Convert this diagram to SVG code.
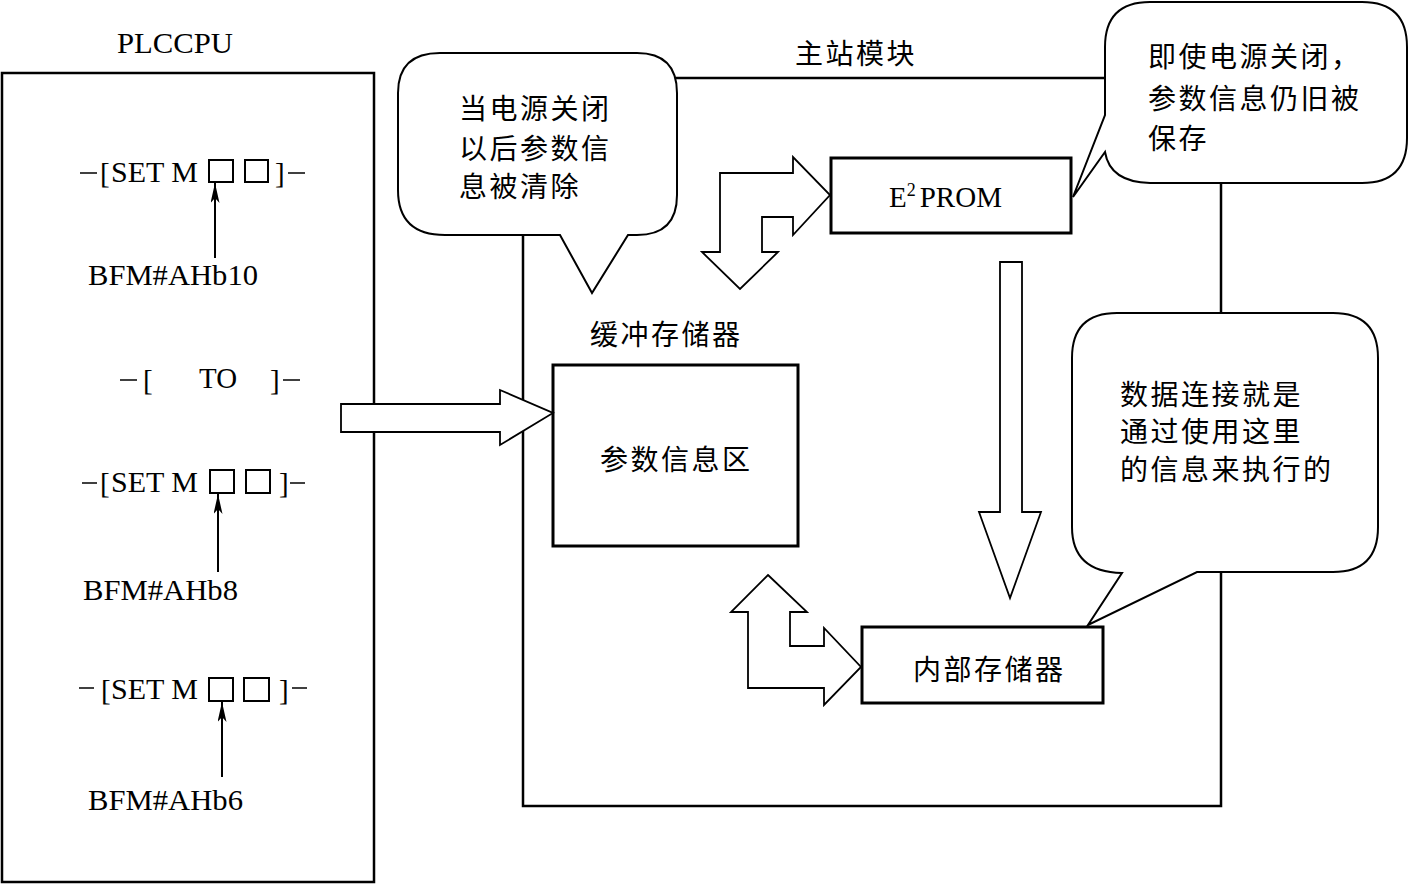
<svg xmlns="http://www.w3.org/2000/svg" width="1411" height="884" viewBox="0 0 1411 884">
<style>
.cjk{font-family:"Noto Sans CJK SC",sans-serif;font-size:28px;letter-spacing:2.5px;fill:#000;dominant-baseline:central}
.lat{font-family:"Liberation Serif","Noto Sans CJK SC",serif;font-size:29px;fill:#000}
.box{fill:#fff;stroke:#000;stroke-width:3}
.frame{fill:none;stroke:#000;stroke-width:2.5}
.bubble{fill:#fff;stroke:#000;stroke-width:2}
.big{fill:#fff;stroke:#000;stroke-width:1.8;stroke-linejoin:miter}
.thin{stroke:#000;stroke-width:1.5;fill:none}
.ptr{stroke:#000;stroke-width:2;fill:none;marker-end:url(#ah)}
.sq{fill:#fff;stroke:#000;stroke-width:2}
</style>
<defs>
<marker id="ah" viewBox="0 0 20 9" refX="20" refY="4.5" markerWidth="20" markerHeight="9" markerUnits="userSpaceOnUse" orient="auto">
<path d="M0,0 L20,4.5 L0,9 L5,4.5 Z" fill="#000"/>
</marker>
</defs>
<rect width="1411" height="884" fill="#fff"/>

<g id="plccpu">
<rect x="2" y="73" width="372" height="809" class="frame" stroke-width="3"/>
<text x="117" y="53" class="lat" textLength="116" lengthAdjust="spacingAndGlyphs">PLCCPU</text>
<line x1="80" y1="173" x2="97" y2="173" class="thin"/>
<text x="100" y="183" class="lat">[</text>
<text x="111" y="182" class="lat" textLength="87" lengthAdjust="spacingAndGlyphs">SET M</text>
<rect x="209" y="160" width="24" height="22" class="sq"/>
<rect x="245" y="160" width="23" height="22" class="sq"/>
<text x="275" y="183" class="lat">]</text>
<line x1="288" y1="173" x2="305" y2="173" class="thin"/>
<text x="88" y="285" class="lat" textLength="170" lengthAdjust="spacingAndGlyphs">BFM#AHb10</text>
<line x1="120" y1="380" x2="137" y2="380" class="thin"/>
<text x="143" y="390" class="lat">[</text>
<text x="199" y="388" class="lat" textLength="38" lengthAdjust="spacingAndGlyphs">TO</text>
<text x="270" y="390" class="lat">]</text>
<line x1="283" y1="380" x2="300" y2="380" class="thin"/>
<line x1="82" y1="483" x2="97" y2="483" class="thin"/>
<text x="100" y="493" class="lat">[</text>
<text x="111" y="492" class="lat" textLength="87" lengthAdjust="spacingAndGlyphs">SET M</text>
<rect x="210" y="470" width="24" height="23" class="sq"/>
<rect x="246" y="470" width="24" height="23" class="sq"/>
<text x="279" y="493" class="lat">]</text>
<line x1="290" y1="483" x2="305" y2="483" class="thin"/>
<text x="83" y="600" class="lat" textLength="155" lengthAdjust="spacingAndGlyphs">BFM#AHb8</text>
<line x1="79" y1="688" x2="94" y2="688" class="thin"/>
<text x="101" y="700" class="lat">[</text>
<text x="111" y="699" class="lat" textLength="87" lengthAdjust="spacingAndGlyphs">SET M</text>
<rect x="209" y="678" width="24" height="23" class="sq"/>
<rect x="244" y="678" width="25" height="23" class="sq"/>
<text x="279" y="700" class="lat">]</text>
<line x1="292" y1="688" x2="307" y2="688" class="thin"/>
<text x="88" y="810" class="lat" textLength="155" lengthAdjust="spacingAndGlyphs">BFM#AHb6</text>
</g>

<g id="master">
<rect x="523" y="78" width="698" height="728" class="frame"/>
<text x="795" y="52" class="cjk">主站模块</text>
</g>

<g id="callout-cleared">
<path class="bubble" d="M440,53 H637 Q677,53 677,93 V195 Q677,235 637,235 H628 L592,293 L560,235 H445 Q398,235 398,190 V93 Q398,53 440,53 Z"/>
<text x="459" y="107" class="cjk">当电源关闭</text>
<text x="459" y="147" class="cjk">以后参数信</text>
<text x="459" y="185" class="cjk">息被清除</text>
</g>

<g id="callout-saved">
<path class="bubble" d="M1150,2 H1362 Q1407,2 1407,47 V138 Q1407,183 1362,183 H1150 Q1110,182 1105,152 L1073,197 L1105,115 V47 Q1105,2 1150,2 Z"/>
<text x="1148" y="55" class="cjk" font-size="27">即使电源关闭，</text>
<text x="1148" y="97" class="cjk" font-size="27">参数信息仍旧被</text>
<text x="1148" y="137" class="cjk" font-size="27">保存</text>
</g>

<g id="callout-link">
<path class="bubble" d="M1117,313 H1333 Q1378,313 1378,358 V527 Q1378,572 1333,572 H1197 L1088,625 L1122,573 Q1072,572 1072,527 V358 Q1072,313 1117,313 Z"/>
<text x="1120" y="393" class="cjk">数据连接就是</text>
<text x="1120" y="430" class="cjk">通过使用这里</text>
<text x="1120" y="468" class="cjk">的信息来执行的</text>
</g>

<g id="eeprom">
<rect x="831" y="158" width="240" height="75" class="box"/>
<text x="889" y="207" class="lat">E<tspan font-size="18" dy="-11">2</tspan><tspan dy="11" dx="4">PROM</tspan></text>
</g>

<g id="buffer">
<text x="590" y="333" class="cjk">缓冲存储器</text>
<rect x="553" y="365" width="245" height="181" class="box"/>
<text x="600" y="458" class="cjk">参数信息区</text>
</g>

<g id="internal">
<rect x="862" y="627" width="241" height="76" class="box"/>
<text x="913" y="668" class="cjk">内部存储器</text>
</g>

<g id="connectors">
<line x1="215" y1="258" x2="215" y2="183" class="ptr"/>
<line x1="218" y1="572" x2="218" y2="494" class="ptr"/>
<line x1="222" y1="777" x2="222" y2="702" class="ptr"/>
<polygon class="big" points="341,404 500,404 500,390 553,413 500,445 500,432 341,432"/>
<polygon class="big" points="720,173 793,173 793,157 830,195 793,235 793,217 762,217 762,252 778,252 740,289 702,252 720,252"/>
<polygon class="big" points="1000,262 1022,262 1022,512 1041,512 1010,598 979,512 1000,512"/>
<polygon class="big" points="768,575 807,612 790,612 790,646 824,646 824,628 861,667 824,705 824,688 748,688 748,612 731,612"/>
</g>
</svg>
